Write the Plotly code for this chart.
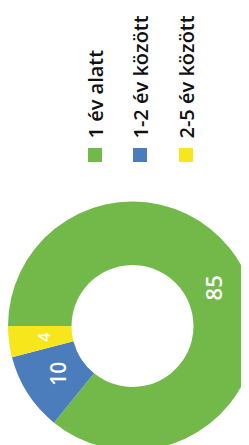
import math
import plotly.graph_objects as go

categories = ["1 év alatt", "1-2 év között", "2-5 év között"]
values = [85, 10, 4]
colors = ["#72b94a", "#4b7dbd", "#f8e61c"]

W, H = 249, 445
# donut placement (pixels)
cx, cy = W / 2, 318
R_dom = W / 2
R = 119
hole = 0.49

fig = go.Figure(go.Pie(
    labels=categories, values=values, hole=hole, sort=False,
    direction="clockwise", rotation=-90,
    marker=dict(colors=colors, line=dict(width=0)),
    textinfo="none", showlegend=False, hoverinfo="label+value",
    domain=dict(x=[0, 1],
                y=[1 - (cy + R_dom) / H, 1 - (cy - R_dom) / H]),
))

annotations = []
# data labels at slice midpoints, rotated like the source
total = sum(values)
start = 270.0  # compass angle of 9 o'clock
cum = 0.0
rmid = R * (1 + hole) / 2
label_sizes = [22, 21, 16]
for v, fs in zip(values, label_sizes):
    mid = start + (cum + v / 2) / total * 360
    cum += v
    a = math.radians(mid)
    px = cx + rmid * math.sin(a)
    py = cy - rmid * math.cos(a)
    annotations.append(dict(
        x=px / W, y=1 - py / H, xref="paper", yref="paper",
        text=str(v), showarrow=False, textangle=-90,
        font=dict(family="Open Sans", size=fs, color="white", weight=600),
        xanchor="center", yanchor="middle",
    ))

# rotated legend
shapes = []
legend_x = [87, 132, 178]
for name, col, lx in zip(categories, colors, legend_x):
    annotations.append(dict(
        x=lx / W, y=1 - 133 / H, xref="paper", yref="paper",
        text=name, showarrow=False, textangle=-90,
        font=dict(family="Open Sans", size=20, color="#111111", weight=600),
        xanchor="center", yanchor="bottom",
    ))
    shapes.append(dict(
        type="rect", xref="paper", yref="paper",
        x0=(lx - 7) / W, x1=(lx + 7) / W, y0=1 - 154 / H, y1=1 - 140 / H,
        fillcolor=col, line=dict(width=0),
    ))

fig.update_layout(
    width=W, height=H, margin=dict(l=0, r=0, t=0, b=0),
    paper_bgcolor="white", plot_bgcolor="white",
    annotations=annotations, shapes=shapes,
)
fig.write_html("out.html")
